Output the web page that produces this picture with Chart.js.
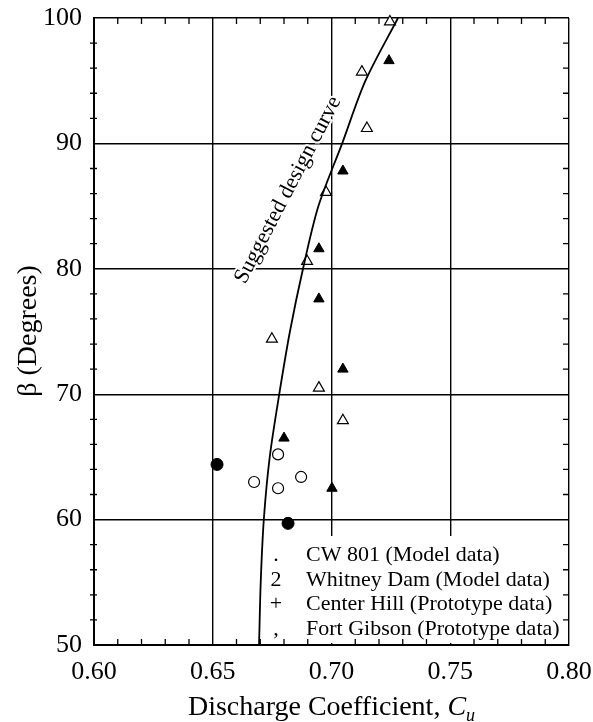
<!DOCTYPE html>
<html>
<head>
<meta charset="utf-8">
<script src="https://cdn.jsdelivr.net/npm/chart.js@4"></script>
<style>
  body { margin: 0; background: #fff; }
  canvas { display: block; }
</style>
</head>
<body>
<canvas id="chart" width="593" height="722"></canvas>
<script>
// podaci ocitani sa slike
let xTicks = [0.60, 0.65, 0.70, 0.75, 0.80];
let yTicks = [50, 60, 70, 80, 90, 100];

// pune tacke
let cw801C = [0.6518, 0.6817];
let cw801Beta = [64.4, 59.7];

// prazni krugovi
let whitneyC = [0.6775, 0.6872, 0.6674, 0.6775];
let whitneyBeta = [65.2, 63.4, 63.0, 62.5];

// puni trouglovi
let centerHillC = [0.7242, 0.7048, 0.6947, 0.6947, 0.7048, 0.6800, 0.7002];
let centerHillBeta = [96.6, 87.8, 81.6, 77.6, 72.0, 66.5, 62.5];

// prazni trouglovi
let fortGibsonC = [0.7246, 0.7128, 0.7149, 0.6977, 0.6897, 0.6749, 0.6947, 0.7048];
let fortGibsonBeta = [99.7, 95.7, 91.2, 86.1, 80.6, 74.4, 70.5, 67.9];

// preporucena kriva
let curveC = [0.6695, 0.6702, 0.6715, 0.6740, 0.6780, 0.6825, 0.6880, 0.6945, 0.7045, 0.7143, 0.7280];
let curveBeta = [50, 55, 60, 65, 70, 75, 80, 85, 90, 95, 100];

let legendSymbols = [".", "2", "+", ","];
let legendLabels = [
    "CW 801 (Model data)",
    "Whitney Dam (Model data)",
    "Center Hill (Prototype data)",
    "Fort Gibson (Prototype data)"
];

const FONT = "'Liberation Serif', 'DejaVu Serif', serif";

function toPoints(xs, ys) {
    return xs.map((x, i) => ({ x: x, y: ys[i] }));
}

// tekstovi, legenda i sitni podeoci
let extras = {
    id: 'extras',
    beforeDatasetsDraw(chart) {
        let c = chart.ctx;
        c.save();
        // bela pozadina legende
        c.fillStyle = '#fff';
        c.fillRect(268, 536, 298, 107);
        c.fillStyle = '#000';
        c.font = "22px " + FONT;
        c.textBaseline = 'alphabetic';
        for (let i = 0; i < legendLabels.length; i++) {
            let y = 561 + i * 24.5;
            c.textAlign = 'center';
            c.fillText(legendSymbols[i], 276, y);
            c.textAlign = 'left';
            c.fillText(legendLabels[i], 306, y);
        }
        c.restore();
    },
    afterDraw(chart) {
        let c = chart.ctx;
        let xs = chart.scales.x, ys = chart.scales.y;
        let a = chart.chartArea;
        c.save();
        c.strokeStyle = '#000';
        c.lineWidth = 1.3;
        c.beginPath();
        for (let k = 61; k < 80; k++) {
            if (k % 5 === 0) continue;
            let px = xs.getPixelForValue(k / 100);
            c.moveTo(px, a.bottom); c.lineTo(px, a.bottom - 6);
            c.moveTo(px, a.top); c.lineTo(px, a.top + 6);
        }
        for (let v = 52; v < 100; v += 2) {
            if (v % 10 === 0) continue;
            let py = ys.getPixelForValue(v);
            c.moveTo(a.left - 4, py); c.lineTo(a.left + 3, py);
            c.moveTo(a.right, py); c.lineTo(a.right - 6, py);
        }
        c.stroke();

        // natpis uz krivu
        c.save();
        c.translate(288, 190);
        c.rotate(-62.5 * Math.PI / 180);
        c.font = "22px " + FONT;
        c.textAlign = 'center';
        c.textBaseline = 'middle';
        c.lineWidth = 4;
        c.strokeStyle = '#fff';
        c.strokeText("Suggested design curve", 0, 0);
        c.fillStyle = '#000';
        c.fillText("Suggested design curve", 0, 0);
        c.restore();

        // naslov y ose
        c.save();
        c.translate(36, 331);
        c.rotate(-Math.PI / 2);
        c.font = "28px " + FONT;
        c.textAlign = 'center';
        c.textBaseline = 'alphabetic';
        c.fillStyle = '#000';
        c.fillText("β (Degrees)", 0, 0);
        c.restore();

        // naslov x ose sa C_u
        let t1 = "Discharge Coefficient, ";
        c.font = "28px " + FONT;
        let w1 = c.measureText(t1).width;
        c.font = "italic 28px " + FONT;
        let w2 = c.measureText("C").width;
        c.font = "italic 18px " + FONT;
        let w3 = c.measureText("u").width;
        let x0 = (a.left + a.right) / 2 - (w1 + w2 + w3) / 2;
        c.fillStyle = '#000';
        c.textAlign = 'left';
        c.textBaseline = 'alphabetic';
        c.font = "28px " + FONT;
        c.fillText(t1, x0, 715);
        c.font = "italic 28px " + FONT;
        c.fillText("C", x0 + w1, 715);
        c.font = "italic 18px " + FONT;
        c.fillText("u", x0 + w1 + w2, 721);
        c.restore();
    }
};

let ctx = document.getElementById('chart');

let chart = new Chart(ctx, {
    type: 'scatter',
    data: {
        datasets: [
            {
                label: 'Suggested design curve',
                data: toPoints(curveC, curveBeta),
                showLine: true,
                borderColor: '#000',
                borderWidth: 1.8,
                pointRadius: 0,
                tension: 0.3,
                fill: false
            },
            {
                label: legendLabels[0],
                data: toPoints(cw801C, cw801Beta),
                pointStyle: 'circle',
                pointRadius: 6,
                backgroundColor: '#000',
                borderColor: '#000',
                borderWidth: 1
            },
            {
                label: legendLabels[1],
                data: toPoints(whitneyC, whitneyBeta),
                pointStyle: 'circle',
                pointRadius: 5.5,
                backgroundColor: '#fff',
                borderColor: '#000',
                borderWidth: 1.2
            },
            {
                label: legendLabels[2],
                data: toPoints(centerHillC, centerHillBeta),
                pointStyle: 'triangle',
                pointRadius: 6,
                backgroundColor: '#000',
                borderColor: '#000',
                borderWidth: 1
            },
            {
                label: legendLabels[3],
                data: toPoints(fortGibsonC, fortGibsonBeta),
                pointStyle: 'triangle',
                pointRadius: 6.3,
                backgroundColor: '#fff',
                borderColor: '#000',
                borderWidth: 1.2,
                clip: false
            }
        ]
    },
    options: {
        responsive: false,
        animation: false,
        events: [],
        layout: { padding: { top: 18, right: 24, left: 0, bottom: 0 } },
        plugins: {
            legend: { display: false },
            tooltip: { enabled: false }
        },
        scales: {
            x: {
                type: 'linear',
                min: 0.6,
                max: 0.8,
                afterFit(s) {
                    s.height = 77;
                    s.paddingLeft = 0;
                    s.paddingRight = 0;
                },
                afterBuildTicks(s) { s.ticks = xTicks.map(v => ({ value: v })); },
                ticks: {
                    callback: v => v.toFixed(2),
                    font: { family: FONT, size: 26 },
                    color: '#000',
                    padding: 12,
                    maxRotation: 0
                },
                grid: { color: '#000', lineWidth: 1.4, drawTicks: false },
                border: { color: '#000', width: 2 }
            },
            y: {
                type: 'linear',
                min: 50,
                max: 100,
                afterFit(s) {
                    s.width = 94;
                    s.paddingTop = 0;
                    s.paddingBottom = 0;
                },
                afterBuildTicks(s) { s.ticks = yTicks.map(v => ({ value: v })); },
                ticks: {
                    font: { family: FONT, size: 26 },
                    color: '#000',
                    padding: 12
                },
                grid: { color: '#000', lineWidth: 1.4, drawTicks: false },
                border: { color: '#000', width: 2 }
            }
        }
    },
    plugins: [extras]
});
</script>
</body>
</html>
